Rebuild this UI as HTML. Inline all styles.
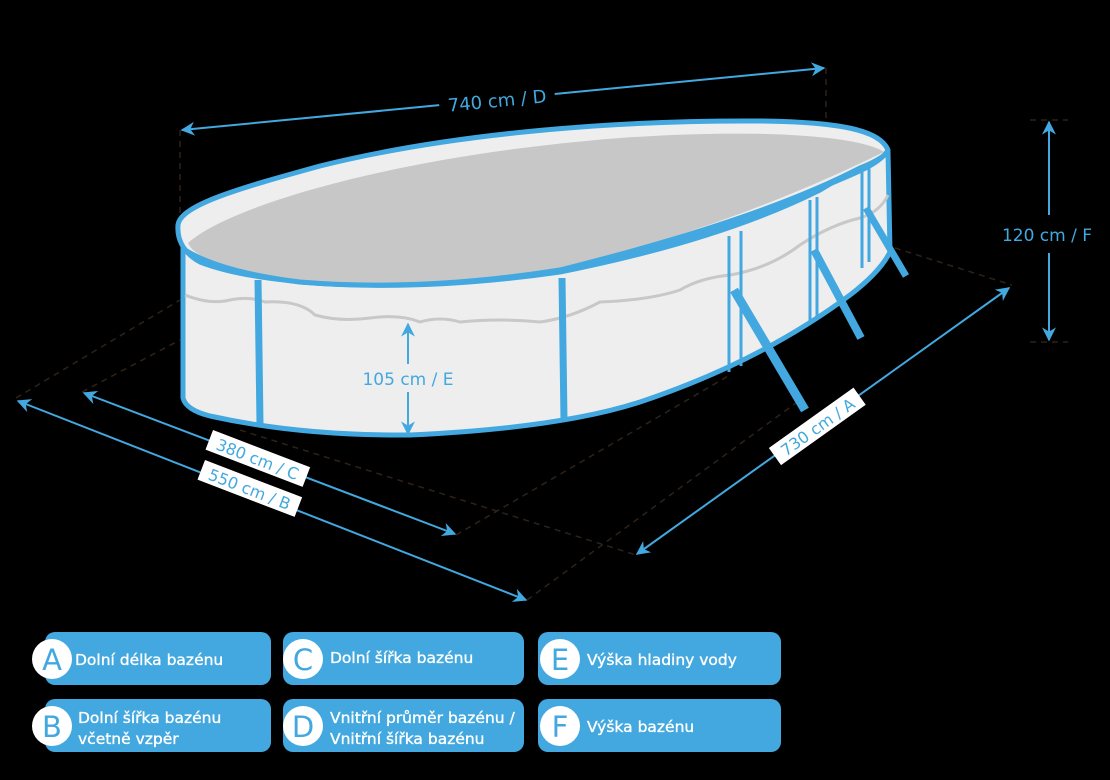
<!DOCTYPE html>
<html><head><meta charset="utf-8"><style>
html,body{margin:0;padding:0;background:#000;}
svg{display:block;}
text{font-family:"DejaVu Sans","Liberation Sans",sans-serif;}
</style></head><body>
<svg width="1110" height="780" viewBox="0 0 1110 780" xmlns="http://www.w3.org/2000/svg">
<defs>
<marker id="ar" viewBox="0 0 10 10" refX="9" refY="5" markerWidth="7" markerHeight="7" orient="auto-start-reverse"><path d="M0,0 L10,5 L0,10 L3,5 z" fill="#42a8df"/></marker>
</defs>
<rect width="1110" height="780" fill="#000"/>
<g stroke="#2e2218" stroke-width="1.5" stroke-dasharray="6,5" fill="none">
<line x1="180" y1="130" x2="180" y2="225"/>
<line x1="826" y1="68" x2="826" y2="125"/>
<line x1="1030" y1="120" x2="1068" y2="120"/>
<line x1="1030" y1="342" x2="1068" y2="342"/>
<line x1="895" y1="248" x2="1012" y2="285"/>
<line x1="16" y1="398" x2="180" y2="300"/>
<line x1="82" y1="392" x2="180" y2="340"/>
<line x1="240" y1="430" x2="636" y2="555"/>
<line x1="527" y1="600" x2="800" y2="400"/>
<line x1="456" y1="535" x2="730" y2="375"/>
</g>
<!-- pool wall -->
<path d="M183,245 L183,398 Q186,410 210,416 Q300,436 410,435 Q560,428 640,402 Q760,362 850,295 Q880,272 890,252 L888,152 Q870,160 820,190 Q720,240 560,272 Q420,292 300,282 Q220,272 183,245 Z" fill="#eeeeef" stroke="#42a8df" stroke-width="5" stroke-linejoin="round"/>
<path d="M185,295 Q210,305 230,300 Q250,296 265,302 Q300,300 315,315 Q340,322 370,318 Q400,314 420,322 Q440,316 460,322 Q500,318 540,322 Q570,318 600,302 Q650,300 680,290 Q700,278 730,275 Q770,268 800,245 Q830,225 860,218 Q880,212 888,195" fill="none" stroke="#c8c8c8" stroke-width="3"/>
<!-- top rim -->
<path d="M178,225 C180,205 240,188 320,166 C440,136 600,120 760,121 C840,122 880,130 888,150 C880,165 850,175 820,188 C720,235 600,265 480,280 C380,290 260,285 200,262 C182,252 177,238 178,225 Z" fill="#eeeeef" stroke="#42a8df" stroke-width="5" stroke-linejoin="round"/>
<path d="M188,243 C230,205 400,155 620,138 C760,128 860,136 884,152 C830,178 720,230 560,268 C420,292 290,285 230,268 C205,260 192,252 188,243 Z" fill="#c8c7c8"/>
<path d="M185,250 Q220,272 300,282 Q420,292 560,270 Q760,220 860,168 Q880,160 888,152" fill="none" stroke="#42a8df" stroke-width="5"/>
<g stroke="#42a8df" fill="none">
<line x1="258" y1="280" x2="260" y2="424" stroke-width="7"/>
<line x1="562" y1="278" x2="564" y2="420" stroke-width="7"/>
<line x1="729" y1="236" x2="729" y2="372" stroke-width="3"/>
<line x1="741" y1="231" x2="741" y2="366" stroke-width="3"/>
<line x1="810" y1="200" x2="810" y2="322" stroke-width="3"/>
<line x1="817" y1="197" x2="817" y2="316" stroke-width="3"/>
<line x1="862" y1="172" x2="862" y2="268" stroke-width="3"/>
<line x1="869" y1="168" x2="869" y2="262" stroke-width="3"/>
<line x1="734" y1="290" x2="805" y2="410" stroke-width="9"/>
<line x1="814" y1="250" x2="861" y2="338" stroke-width="8"/>
<line x1="866" y1="208" x2="906" y2="276" stroke-width="7"/>
</g>
<g stroke="#42a8df" stroke-width="2" fill="none" marker-start="url(#ar)" marker-end="url(#ar)">
<line x1="408" y1="324" x2="408" y2="434"/>
<line x1="1049" y1="122" x2="1049" y2="340"/>
<line x1="182" y1="130" x2="824" y2="68"/>
<line x1="84" y1="393" x2="455" y2="534"/>
<line x1="18" y1="401" x2="526" y2="600"/>
<line x1="637" y1="554" x2="1009" y2="288"/>
</g>
<rect x="382" y="364" width="54" height="28" fill="#eeeeef"/>
<rect x="998" y="215" width="104" height="38" fill="#000"/>
<g transform="translate(497,100) rotate(-5.5)"><rect x="-58" y="-12" width="116" height="24" fill="#000"/>
<text x="0" y="7" font-size="18" fill="#42a8df" text-anchor="middle">740 cm / D</text></g>
<text x="408" y="385" font-size="17" fill="#42a8df" text-anchor="middle">105 cm / E</text>
<text x="1047" y="241" font-size="17" fill="#42a8df" text-anchor="middle">120 cm / F</text>
<g transform="translate(258,458) rotate(21)"><rect x="-52" y="-10" width="104" height="21" fill="#fff"/>
<text x="0" y="7" font-size="16" fill="#42a8df" text-anchor="middle">380 cm / C</text></g>
<g transform="translate(250,488) rotate(21)"><rect x="-52" y="-10" width="104" height="21" fill="#fff"/>
<text x="0" y="7" font-size="16" fill="#42a8df" text-anchor="middle">550 cm / B</text></g>
<g transform="translate(817,426) rotate(-35.5)"><rect x="-52" y="-10" width="104" height="21" fill="#fff"/>
<text x="0" y="7" font-size="16" fill="#42a8df" text-anchor="middle">730 cm / A</text></g>
<g fill="#fff">
<rect x="45" y="632" width="226" height="53" rx="10" fill="#42a8df"/>
<rect x="45" y="699" width="226" height="53" rx="10" fill="#42a8df"/>
<rect x="283" y="632" width="241" height="53" rx="10" fill="#42a8df"/>
<rect x="283" y="699" width="241" height="53" rx="10" fill="#42a8df"/>
<rect x="538" y="632" width="243" height="53" rx="10" fill="#42a8df"/>
<rect x="538" y="699" width="243" height="53" rx="10" fill="#42a8df"/>
<circle cx="52" cy="659" r="20" fill="#fff"/>
<circle cx="52" cy="726" r="20" fill="#fff"/>
<circle cx="303" cy="659" r="20" fill="#fff"/>
<circle cx="303" cy="726" r="20" fill="#fff"/>
<circle cx="560" cy="659" r="20" fill="#fff"/>
<circle cx="560" cy="726" r="20" fill="#fff"/>
<g font-size="29" fill="#42a8df" text-anchor="middle">
<text x="52" y="670">A</text><text x="52" y="737">B</text>
<text x="303" y="670">C</text><text x="303" y="737">D</text>
<text x="560" y="670">E</text><text x="560" y="737">F</text>
</g>
<g font-size="15.5" stroke="#fff" stroke-width="0.35">
<text x="75" y="665">Dolní délka bazénu</text>
<text x="78" y="723">Dolní šířka bazénu</text>
<text x="78" y="744">včetně vzpěr</text>
<text x="330" y="663">Dolní šířka bazénu</text>
<text x="330" y="723">Vnitřní průměr bazénu /</text>
<text x="330" y="744">Vnitřní šířka bazénu</text>
<text x="587" y="665">Výška hladiny vody</text>
<text x="587" y="732">Výška bazénu</text>
</g>
</g>
</svg>
</body></html>
